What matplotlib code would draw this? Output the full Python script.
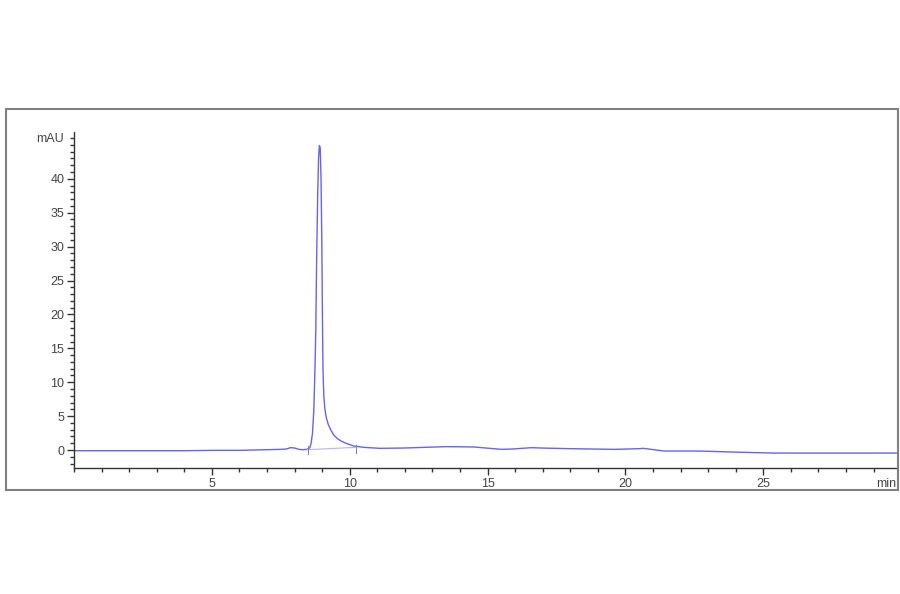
import matplotlib
matplotlib.use('Agg')
import matplotlib.pyplot as plt
from matplotlib.patches import Rectangle
from matplotlib.ticker import MultipleLocator

# chromatogram trace (time in min, signal in mAU)
time = [0.0, 1.0, 2.0, 3.0, 4.0, 5.0, 6.0, 7.0, 7.5, 7.7, 7.85, 8.0, 8.15,
        8.3, 8.45, 8.55, 8.6, 8.65, 8.7, 8.74, 8.77, 8.8, 8.84, 8.87, 8.9,
        8.93, 8.96, 8.99, 9.01, 9.03, 9.06, 9.1, 9.15, 9.22, 9.31, 9.42,
        9.55, 9.7, 9.86, 10.14, 10.5, 11.1, 12.0, 13.5, 14.5, 15.5, 15.9,
        16.6, 16.9, 18.0, 19.6, 20.5, 20.65, 21.4, 22.7, 23.9, 25.4, 27.0,
        28.5, 29.85]
signal = [-0.1, -0.1, -0.1, -0.1, -0.1, -0.05, -0.05, 0.05, 0.1, 0.15, 0.35,
          0.3, 0.1, 0.05, 0.1, 0.3, 1.0, 2.5, 6.0, 12.0, 17.7, 28.0, 38.0,
          43.0, 44.9, 44.6, 40.0, 30.0, 20.0, 12.0, 8.0, 6.0, 4.8, 3.8, 3.0,
          2.2, 1.7, 1.3, 1.0, 0.6, 0.4, 0.25, 0.3, 0.5, 0.45, 0.1, 0.15,
          0.35, 0.3, 0.2, 0.1, 0.2, 0.25, -0.15, -0.15, -0.3, -0.45, -0.45,
          -0.45, -0.45]

# integration baseline under the peak
base_t = [8.47, 10.24]
base_v = [0.05, 0.4]

line_col = '#6464f0'
text_col = '#444444'

fig = plt.figure(figsize=(9, 5.94), dpi=100)

# grey frame round the chart
frame = Rectangle((5.5 / 900, 1 - 490 / 594), 892.5 / 900, 381 / 594,
                  transform=fig.transFigure, fill=False,
                  edgecolor='#808080', linewidth=1.5)
fig.patches.append(frame)

ax = fig.add_axes([74 / 900, 1 - 468 / 594, 823 / 900, 336 / 594])

ax.plot(time, signal, color=line_col, linewidth=1.0)
ax.plot(base_t, base_v, color='#b4b4f0', linewidth=0.8)
ax.plot([base_t[0], base_t[0]], [base_v[0] - 0.6, base_v[0] + 0.6],
        color='#888888', linewidth=0.8)
ax.plot([base_t[1], base_t[1]], [base_v[1] - 0.9, base_v[1] + 0.3],
        color='#888888', linewidth=0.8)

ax.set_xlim(0, 29.85)
ax.set_ylim(-2.65, 46.9)

for s in ['top', 'right']:
    ax.spines[s].set_visible(False)
for s in ['left', 'bottom']:
    ax.spines[s].set_color('#333333')
    ax.spines[s].set_linewidth(1.0)

ax.xaxis.set_major_locator(MultipleLocator(5))
ax.xaxis.set_minor_locator(MultipleLocator(1))
ax.yaxis.set_major_locator(MultipleLocator(5))
ax.yaxis.set_minor_locator(MultipleLocator(1))

ax.tick_params(which='major', length=5, width=1, color='#333333',
               labelsize=9, labelcolor=text_col, pad=2)
ax.tick_params(which='minor', length=3, width=1, color='#333333')

xt = [5, 10, 15, 20, 25]
ax.set_xticks(xt)
ax.set_xticklabels([str(v) for v in xt])
yt = [0, 5, 10, 15, 20, 25, 30, 35, 40]
ax.set_yticks(yt)
ax.set_yticklabels([str(v) for v in yt])

for lab in ax.get_xticklabels() + ax.get_yticklabels():
    lab.set_family('Liberation Sans')

fig.text(64 / 900, 1 - 139 / 594, 'mAU', ha='right', va='center',
         fontsize=9, color=text_col, family='Liberation Sans')
fig.text(896 / 900, 1 - 484 / 594, 'min', ha='right', va='center',
         fontsize=9, color=text_col, family='Liberation Sans')

fig.savefig('out.png', dpi=100)
